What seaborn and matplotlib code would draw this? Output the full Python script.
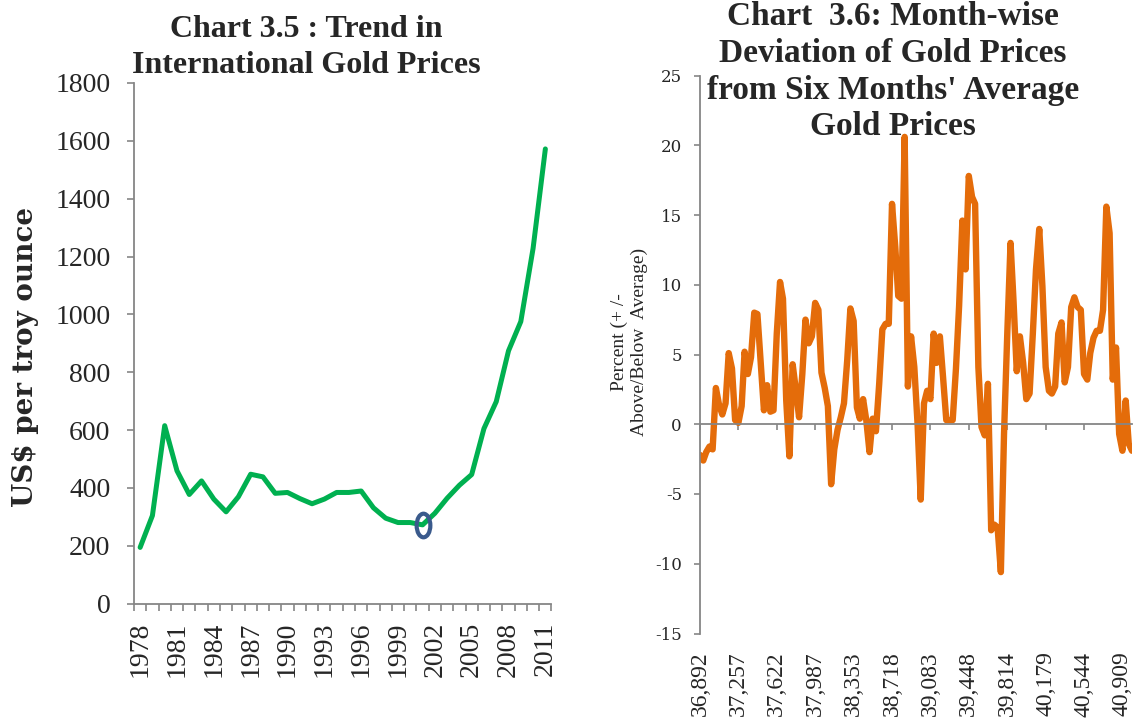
import numpy as np
import pandas as pd
import matplotlib
matplotlib.use('Agg')
import matplotlib.pyplot as plt
import seaborn as sns
from matplotlib.path import Path
from matplotlib.transforms import Affine2D
from matplotlib.ticker import FuncFormatter

# Chart 3.5 data: yearly international gold price (US$ per troy ounce)
years = list(range(1978, 2012))
gold_price = [194, 304, 615, 459, 377, 424, 361, 317, 369, 447, 438, 381, 384, 363,
              345, 361, 384, 384, 389, 331, 295, 280, 280, 272, 312, 364, 409, 446,
              605, 698, 874, 975, 1228, 1572]
highlight_year = 2001

# Chart 3.6 data: monthly deviation (%) from six months' average, Jan 2001 onwards
deviation = [-2.2, -2.6, -2.0, -1.6, -1.8, 2.6, 1.4, 0.7, 1.5, 5.1,
             4.0, 0.3, 0.1, 1.3, 5.2, 3.6, 4.8, 8.0, 7.9, 4.4,
             1.0, 2.8, 0.9, 1.0, 6.5, 10.2, 9.0, 1.7, -2.3, 4.3,
             2.5, 0.5, 3.6, 7.5, 5.8, 6.3, 8.7, 8.2, 3.7, 2.6,
             1.3, -4.3, -1.8, -0.4, 0.5, 1.5, 4.6, 8.3, 7.4, 1.2,
             0.4, 1.8, 0.3, -2.0, 0.4, -0.5, 2.9, 6.8, 7.2, 7.2,
             15.8, 12.7, 9.2, 9.0, 20.6, 2.7, 6.3, 4.1, 0.0, -5.4,
             1.5, 2.4, 1.8, 6.5, 4.4, 6.3, 3.4, 0.3, 0.3, 0.3,
             4.0, 8.5, 14.6, 11.1, 17.8, 16.3, 15.8, 4.1, -0.2, -0.8,
             2.9, -7.6, -7.2, -7.4, -10.6, -0.7, 6.5, 13.0, 8.9, 3.8,
             6.3, 4.4, 1.8, 2.2, 6.5, 11.1, 14.0, 9.9, 4.1, 2.4,
             2.2, 2.7, 6.5, 7.3, 3.0, 4.1, 8.4, 9.1, 8.4, 8.2,
             3.6, 3.2, 5.1, 6.2, 6.7, 6.7, 8.2, 15.6, 13.7, 3.2,
             5.5, -0.7, -1.9, 1.7, -1.4, -1.9]

excel_epoch = pd.Timestamp('1899-12-30')
months = pd.date_range('2001-01-01', periods=len(deviation), freq='MS')
serial = (months - excel_epoch).days
tick_dates = pd.date_range('2001-01-01', '2012-01-01', freq='YS')
tick_serial = list((tick_dates - excel_epoch).days)

df_gold = pd.DataFrame({'year': years, 'price': gold_price})
df_dev = pd.DataFrame({'serial': serial, 'dev': deviation})

sns.set_style('white')
plt.rcParams['font.family'] = ['Liberation Serif', 'DejaVu Serif']
plt.rcParams['axes.unicode_minus'] = False

W, H = 1135, 722
fig = plt.figure(figsize=(W / 100, H / 100), dpi=100)

axis_grey = '#868686'

# ---------------- left chart ----------------
ax1 = fig.add_axes([134 / W, 1 - 603.5 / H, (551.5 - 134) / W, (603.5 - 83) / H])
ellipse = Path.unit_circle().transformed(Affine2D().scale(0.58, 1.0))
hl = years.index(highlight_year)
sns.lineplot(data=df_gold, x='year', y='price', ax=ax1, color='#00B050',
             linewidth=3.6, marker=ellipse, markevery=[hl], markersize=17,
             markerfacecolor='none', markeredgecolor='#3A5A8C',
             markeredgewidth=3.0)
ax1.set_xlim(years[0] - 0.5, years[-1] + 0.5)
ax1.set_ylim(0, 1800)
ax1.set_yticks(range(0, 1801, 200))
ax1.set_xticks(years[::3])
ax1.set_xticklabels([str(y) for y in years[::3]], rotation=90)
ax1.set_xticks(np.arange(years[0] - 0.5, years[-1] + 1), minor=True)
ax1.tick_params(axis='x', which='major', length=0, pad=13, labelsize=20)
ax1.tick_params(axis='x', which='minor', length=5, width=1.2, color=axis_grey,
                direction='out', bottom=True)
ax1.tick_params(axis='y', length=5, width=1.2, color=axis_grey, direction='out',
                left=True, pad=12, labelsize=20)
for s in ['top', 'right']:
    ax1.spines[s].set_visible(False)
for s in ['left', 'bottom']:
    ax1.spines[s].set_color(axis_grey)
    ax1.spines[s].set_linewidth(1.3)
ax1.set_xlabel('')
ax1.set_ylabel('')

fig.text(306 / W, 1 - 15 / H, 'Chart 3.5 : Trend in\nInternational Gold Prices',
         ha='center', va='top', fontsize=23, fontweight='bold', linespacing=1.3)
fig.text(26 / W, 1 - 357 / H, 'US$ per troy ounce', rotation=90, ha='center',
         va='center', fontsize=20, fontweight='bold', family=['DejaVu Serif'])

# ---------------- right chart ----------------
ax2 = fig.add_axes([700 / W, 1 - 633.5 / H, (1132 - 700) / W, (633.5 - 75.5) / H])
sns.lineplot(data=df_dev, x='serial', y='dev', ax=ax2, color='#E46C0A',
             linewidth=4.6)
ax2.set_xlim(serial[0], serial[-1])
ax2.set_ylim(-15, 25)
ax2.set_yticks(range(-15, 26, 5))
ax2.spines['bottom'].set_position(('data', 0))
ax2.set_xticks(tick_serial)
ax2.tick_params(axis='x', length=4, width=1.2, color=axis_grey, direction='out',
                bottom=True, labelbottom=False)
ax2.tick_params(axis='y', length=4, width=1.2, color=axis_grey, direction='out',
                left=True, pad=9, labelsize=12)
for lbl in ax2.get_yticklabels():
    lbl.set_family(['DejaVu Serif'])
for s in ['top', 'right']:
    ax2.spines[s].set_visible(False)
for s in ['left', 'bottom']:
    ax2.spines[s].set_color(axis_grey)
    ax2.spines[s].set_linewidth(1.3)
ax2.set_xlabel('')
ax2.set_ylabel('')

sec = ax2.secondary_xaxis('bottom')
sec.set_xticks(tick_serial)
sec.xaxis.set_major_formatter(FuncFormatter(lambda v, p: f'{v:,.0f}'))
sec.tick_params(axis='x', length=0, pad=13, labelsize=17, labelrotation=90)
sec.spines['bottom'].set_visible(False)

fig.text(893 / W, 1 - 1 / H,
         "Chart  3.6: Month-wise\nDeviation of Gold Prices\nfrom Six Months' Average\nGold Prices",
         ha='center', va='top', fontsize=24, fontweight='bold', linespacing=1.24)
fig.text(629 / W, 1 - 342 / H, 'Percent (+ /-\nAbove/Below  Average)', rotation=90,
         ha='center', va='center', fontsize=14, linespacing=1.2, multialignment='center')

fig.savefig('out.png', dpi=100)
